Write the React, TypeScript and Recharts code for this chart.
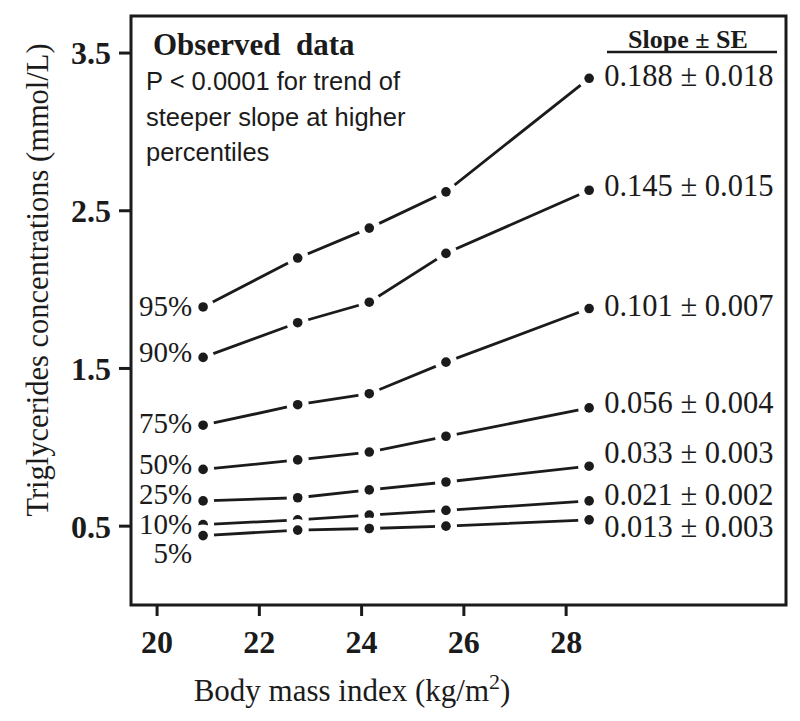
import React from 'react'
import { ComposedChart, Scatter, XAxis, YAxis, ReferenceArea } from 'recharts'

// BMI quintile medians (x) and triglyceride percentiles (mmol/L)
const bmi = [20.9, 22.75, 24.15, 25.65, 28.45]
const p95 = [1.89, 2.2, 2.39, 2.62, 3.34]
const p90 = [1.57, 1.79, 1.92, 2.23, 2.63]
const p75 = [1.14, 1.27, 1.34, 1.54, 1.88]
const p50 = [0.86, 0.92, 0.97, 1.07, 1.25]
const p25 = [0.66, 0.68, 0.73, 0.78, 0.88]
const p10 = [0.51, 0.54, 0.57, 0.6, 0.66]
const p5 = [0.44, 0.475, 0.485, 0.5, 0.54]

const percentNames = ['95%', '90%', '75%', '50%', '25%', '10%', '5%']
const slopeTexts = [
  '0.188 ± 0.018',
  '0.145 ± 0.015',
  '0.101 ± 0.007',
  '0.056 ± 0.004',
  '0.033 ± 0.003',
  '0.021 ± 0.002',
  '0.013 ± 0.003',
]
const xTicks = [20, 22, 24, 26, 28]
const yTicks = [0.5, 1.5, 2.5, 3.5]

const X_DOMAIN: [number, number] = [19.49, 32.3]
const Y_DOMAIN: [number, number] = [0, 3.735]

const INK = '#1b1b1b'
const SERIF = '"Liberation Serif", "Times New Roman", serif'
const SANS = '"Liberation Sans", Arial, sans-serif'

// label nudges (px) so text sits where the figure puts it
const pctDy = [-1, -6, -2, -6, -7, -1, 17]
const slopeDy = [-3, -5, -3, -6, -14, -7, 6]

const keys = ['p95', 'p90', 'p75', 'p50', 'p25', 'p10', 'p5']
const columns = [p95, p90, p75, p50, p25, p10, p5]

const data = bmi.map((x, i) => {
  const row: Record<string, number> = { bmi: x }
  keys.forEach((k, s) => {
    row[k] = columns[s][i]
  })
  return row
})

// dot with a white gap around it, plus the percentile / slope text at the ends
function makeMarker(s: number) {
  return (props: any) => {
    const { cx, cy, payload } = props
    if (cx == null || cy == null) return <g />
    const index = bmi.indexOf(payload?.bmi)
    return (
      <g>
        <circle cx={cx} cy={cy} r={11} fill="#fff" stroke="none" />
        <circle cx={cx} cy={cy} r={4.8} fill={INK} stroke="none" />
        {index === 0 && (
          <text
            x={cx - 11}
            y={cy + pctDy[s]}
            dy="0.35em"
            textAnchor="end"
            fontFamily={SERIF}
            fontSize={29}
            fill={INK}
          >
            {percentNames[s]}
          </text>
        )}
        {index === bmi.length - 1 && (
          <text
            x={cx + 15}
            y={cy + slopeDy[s]}
            dy="0.35em"
            textAnchor="start"
            fontFamily={SERIF}
            fontSize={30.5}
            fill={INK}
          >
            {slopeTexts[s]}
          </text>
        )}
      </g>
    )
  }
}

export default function App() {
  return (
    <div style={{ position: 'absolute', left: 0, top: 0, width: 800, height: 721, background: '#fff' }}>
      <ComposedChart width={800} height={721} data={data} margin={{ top: 16, right: 14, bottom: 56, left: 71 }}>
        <XAxis
          type="number"
          dataKey="bmi"
          domain={X_DOMAIN}
          ticks={xTicks}
          allowDataOverflow
          axisLine={false}
          tickSize={11}
          tickMargin={14}
          height={60}
          tickLine={{ stroke: INK, strokeWidth: 3 }}
          tick={{ fill: INK, fontFamily: SERIF, fontSize: 32, fontWeight: 700 }}
        />
        <YAxis
          type="number"
          domain={Y_DOMAIN}
          ticks={yTicks}
          allowDataOverflow
          axisLine={false}
          width={60}
          tickSize={12}
          tickMargin={8}
          tickLine={{ stroke: INK, strokeWidth: 3 }}
          tick={{ fill: INK, fontFamily: SERIF, fontSize: 32, fontWeight: 700 }}
          tickFormatter={(v: number) => v.toFixed(1)}
        />
        <ReferenceArea
          x1={X_DOMAIN[0]}
          x2={X_DOMAIN[1]}
          y1={Y_DOMAIN[0]}
          y2={Y_DOMAIN[1]}
          fill="none"
          stroke={INK}
          strokeWidth={3}
          ifOverflow="visible"
        />
        {keys.map((k, s) => (
          <Scatter
            key={k}
            dataKey={k}
            line={{ stroke: INK, strokeWidth: 2.8 }}
            lineType="joint"
            lineJointType="linear"
            shape={makeMarker(s)}
            isAnimationActive={false}
          />
        ))}
      </ComposedChart>

      <svg
        width={800}
        height={721}
        style={{ position: 'absolute', left: 0, top: 0, pointerEvents: 'none' }}
      >
        <text x={153} y={55} fontFamily={SERIF} fontSize={31} fontWeight={700} fill={INK} style={{ whiteSpace: 'pre' }}>
          {'Observed  data'}
        </text>
        <text fontFamily={SANS} fontSize={25.5} fill={INK}>
          <tspan x={146} y={90}>P &lt; 0.0001 for trend of</tspan>
          <tspan x={146} y={126}>steeper slope at higher</tspan>
          <tspan x={146} y={161}>percentiles</tspan>
        </text>
        <text x={688} y={48} textAnchor="middle" fontFamily={SERIF} fontSize={26} fontWeight={700} fill={INK}>
          Slope ± SE
        </text>
        <line x1={607} x2={777} y1={52} y2={52} stroke={INK} strokeWidth={2.5} />
        <text
          transform="translate(48, 280) rotate(-90)"
          textAnchor="middle"
          fontFamily={SERIF}
          fontSize={30.5}
          fill={INK}
        >
          Triglycerides concentrations (mmol/L)
        </text>
        <text x={352} y={701} textAnchor="middle" fontFamily={SERIF} fontSize={31} fill={INK}>
          Body mass index (kg/m
          <tspan fontSize={22} dy={-12}>2</tspan>
          <tspan dy={12}>)</tspan>
        </text>
      </svg>
    </div>
  )
}
